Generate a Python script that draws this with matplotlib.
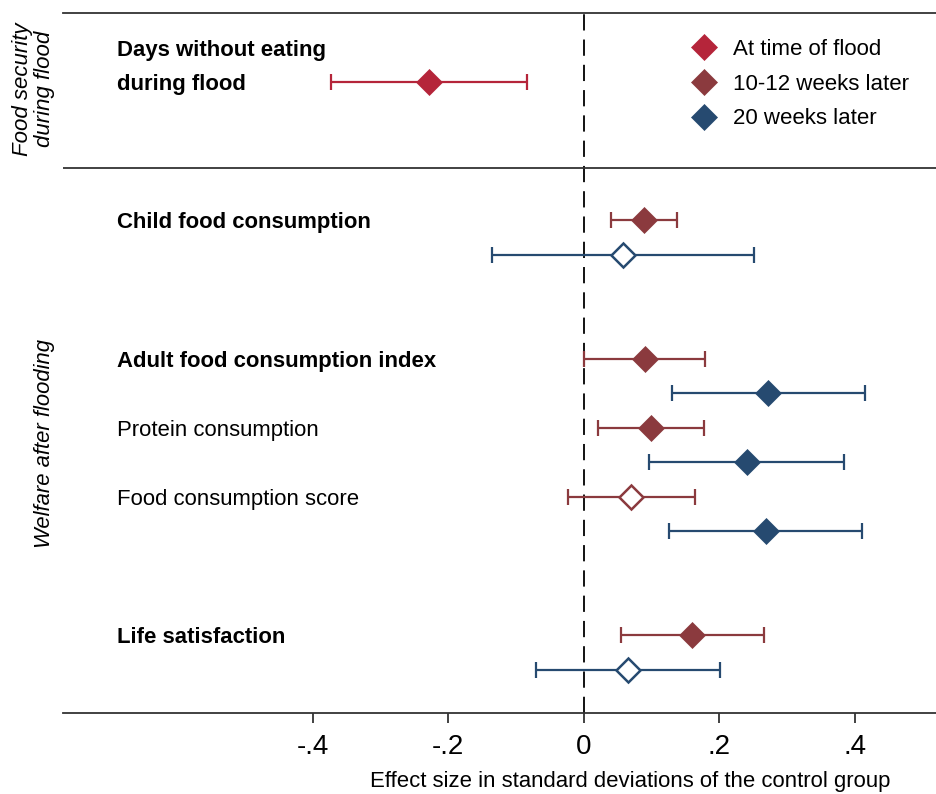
import numpy as np
import matplotlib
matplotlib.use('Agg')
import matplotlib.pyplot as plt
from matplotlib.lines import Line2D

plt.rcParams['font.family'] = ['Liberation Sans', 'DejaVu Sans']

# colours of the three survey waves
c_flood = '#b5253a'
c_wk12 = '#8b3a3e'
c_wk20 = '#264a70'

# row slots (0 = top line, one slot per line of text)
flood_rows = [2]
flood_est = [-0.228]
flood_lo = [-0.373]
flood_hi = [-0.083]
flood_hollow = [False]

wk12_rows = [6, 10, 12, 14, 18]
wk12_est = [0.0895, 0.0905, 0.0993, 0.070, 0.160]
wk12_lo = [0.041, 0.001, 0.021, -0.023, 0.055]
wk12_hi = [0.137, 0.1795, 0.178, 0.164, 0.2665]
wk12_hollow = [False, False, False, True, False]

wk20_rows = [7, 11, 13, 15, 19]
wk20_est = [0.0575, 0.2725, 0.2405, 0.269, 0.065]
wk20_lo = [-0.136, 0.130, 0.0964, 0.126, -0.070]
wk20_hi = [0.251, 0.4157, 0.3838, 0.4112, 0.201]
wk20_hollow = [True, False, False, False, True]

labels = ['Days without eating', 'during flood', 'Child food consumption',
          'Adult food consumption index', 'Protein consumption',
          'Food consumption score', 'Life satisfaction']
label_rows = [1, 2, 6, 10, 12, 14, 18]
label_bold = [True, True, True, True, False, False, True]

legend_names = ['At time of flood', '10-12 weeks later', '20 weeks later']

xticks = [-0.4, -0.2, 0, 0.2, 0.4]
xticklabels = ['-.4', '-.2', '0', '.2', '.4']

W, H = 936, 794
fig = plt.figure(figsize=(W / 100, H / 100), dpi=100)
left, right, top, bottom = 63, 936, 12.7, 713
ax = fig.add_axes([left / W, 1 - bottom / H, (right - left) / W, (bottom - top) / H])

ax.set_xlim(-0.7686, 0.52)
ax.set_ylim(20.25, 0)


def draw(rows, est, lo, hi, hollow, color):
    for r, e, l, h, o in zip(rows, est, lo, hi, hollow):
        ax.errorbar(e, r, xerr=[[e - l], [h - e]], fmt='none', ecolor=color,
                    elinewidth=1.6, capsize=5.5, capthick=1.6, zorder=3)
        ax.plot(e, r, marker='D', ms=12 if o else 13,
                mfc='white' if o else color, mec=color,
                mew=1.8 if o else 0.5, zorder=4, ls='none')


ax.axvline(0, color='black', lw=1.3, ls=(0, (9, 5)), zorder=1)
draw(flood_rows, flood_est, flood_lo, flood_hi, flood_hollow, c_flood)
draw(wk12_rows, wk12_est, wk12_lo, wk12_hi, wk12_hollow, c_wk12)
draw(wk20_rows, wk20_est, wk20_lo, wk20_hi, wk20_hollow, c_wk20)

# section separator
ax.axhline(4.5, color='#333333', lw=1.3)

for lab, r, b in zip(labels, label_rows, label_bold):
    ax.text(-0.689, r + 0.08, lab, ha='left', va='center', fontsize=15.9,
            fontweight='bold' if b else 'normal')

handles = [Line2D([], [], marker='D', ls='none', ms=13, color=c, mew=0.5)
           for c in [c_flood, c_wk12, c_wk20]]
ax.legend(handles, legend_names, loc='center left',
          bbox_to_anchor=((690.7 - left) / (right - left), 1 - (84 - top) / (bottom - top)),
          frameon=False, fontsize=16, handletextpad=0.7, labelspacing=0.62,
          borderaxespad=0, borderpad=0, handlelength=1.2)

for s in ['left', 'right']:
    ax.spines[s].set_visible(False)
for s in ['top', 'bottom']:
    ax.spines[s].set_color('#333333')
    ax.spines[s].set_linewidth(1.3)
ax.set_yticks([])
ax.set_xticks(xticks)
ax.set_xticklabels(xticklabels, fontsize=20)
ax.tick_params(axis='x', length=7, width=1.3, color='#333333', pad=8)
ax.set_xlabel('Effect size in standard deviations of the control group',
              fontsize=15.9)
ax.xaxis.label.set_va('center')
ax.xaxis.set_label_coords((630 - left) / (right - left), 1 - (781 - top) / (bottom - top))

fig.text(33.5 / W, 1 - 89 / H, 'Food security\nduring flood', rotation=90,
         ha='center', va='center', fontsize=16, style='italic',
         multialignment='center', linespacing=1.1)
fig.text(45 / W, 1 - 444 / H, 'Welfare after flooding', rotation=90,
         ha='center', va='center', fontsize=15.8, style='italic')

fig.savefig('out.png', dpi=100)
